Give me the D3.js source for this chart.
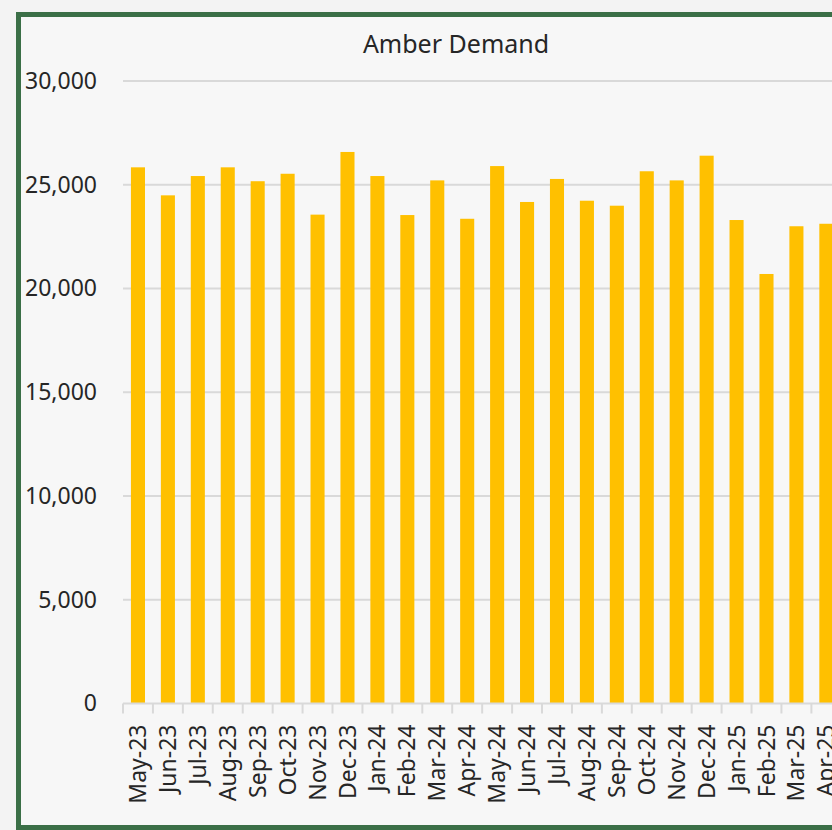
<!DOCTYPE html>
<html>
<head>
<meta charset="utf-8">
<script src="https://cdn.jsdelivr.net/npm/d3@7"></script>
<style>
  html, body { margin: 0; padding: 0; background: #f3f3f3; overflow: hidden; }
  svg { display: block; font-family: "Noto Sans", "Open Sans", sans-serif; }
</style>
</head>
<body>
<div id="chart"></div>
<script>
// data
const months = ["May-23", "Jun-23", "Jul-23", "Aug-23", "Sep-23", "Oct-23", "Nov-23", "Dec-23",
  "Jan-24", "Feb-24", "Mar-24", "Apr-24", "May-24", "Jun-24", "Jul-24", "Aug-24",
  "Sep-24", "Oct-24", "Nov-24", "Dec-24", "Jan-25", "Feb-25", "Mar-25", "Apr-25"];
const demand = [25840, 24490, 25420, 25840, 25170, 25530, 23560, 26580,
  25420, 23540, 25210, 23360, 25900, 24170, 25280, 24230,
  23990, 25650, 25210, 26400, 23300, 20700, 23000, 23120];
const yTicks = [0, 5000, 10000, 15000, 20000, 25000, 30000];
const chartTitle = "Amber Demand";

const width = 832;
const height = 830;

const svg = d3.select("#chart").append("svg")
  .attr("width", width)
  .attr("height", height);

// chart box with green border (runs off the right edge)
svg.append("rect")
  .attr("x", 18.5)
  .attr("y", 14.5)
  .attr("width", 900)
  .attr("height", 813)
  .attr("fill", "#f7f7f7")
  .attr("stroke", "#3b6f47")
  .attr("stroke-width", 5);

const x = d3.scaleBand()
  .domain(months)
  .range([123, 123 + months.length * 29.93])
  .paddingInner(0.53)
  .paddingOuter(0.265);

const y = d3.scaleLinear()
  .domain([0, 30000])
  .range([703.5, 81]);

// gridlines
svg.append("g")
  .selectAll("line")
  .data(yTicks.filter((d) => d > 0))
  .join("line")
  .attr("x1", 123)
  .attr("x2", width)
  .attr("y1", (d) => y(d))
  .attr("y2", (d) => y(d))
  .attr("stroke", "#d9d9d9")
  .attr("stroke-width", 2);

// y axis labels
const yAxis = svg.append("g")
  .attr("transform", "translate(123,0)")
  .call(d3.axisLeft(y).tickValues(yTicks).tickFormat(d3.format(",")).tickSize(0).tickPadding(26));
yAxis.select(".domain").remove();
yAxis.selectAll("text")
  .attr("font-size", 23)
  .attr("fill", "#262626")
  .attr("font-family", "Noto Sans");

// bars
svg.append("g")
  .attr("fill", "#ffc000")
  .selectAll("rect")
  .data(demand)
  .join("rect")
  .attr("x", (d, i) => x(months[i]))
  .attr("y", (d) => y(d))
  .attr("width", x.bandwidth())
  .attr("height", (d) => y(0) - y(d));

// x axis
const xAxis = svg.append("g")
  .attr("transform", `translate(0,${y(0)})`)
  .call(d3.axisBottom(x).tickSize(10).tickPadding(12).tickSizeOuter(0));
xAxis.select(".domain").attr("stroke", "#d9d9d9").attr("stroke-width", 2)
  .attr("d", `M123,0H${width}`);
xAxis.selectAll(".tick line")
  .attr("stroke", "#d9d9d9")
  .attr("stroke-width", 2)
  .attr("transform", `translate(${-x.step() / 2},0)`);
xAxis.selectAll("text")
  .attr("font-size", 23)
  .attr("fill", "#262626")
  .attr("font-family", "Noto Sans")
  .attr("text-anchor", "end")
  .attr("dy", "0.35em")
  .attr("transform", "rotate(-90)")
  .attr("x", -21)
  .attr("y", 0);

// title
svg.append("text")
  .attr("x", 456)
  .attr("y", 53)
  .attr("text-anchor", "middle")
  .attr("font-size", 25)
  .attr("fill", "#262626")
  .text(chartTitle);
</script>
</body>
</html>
